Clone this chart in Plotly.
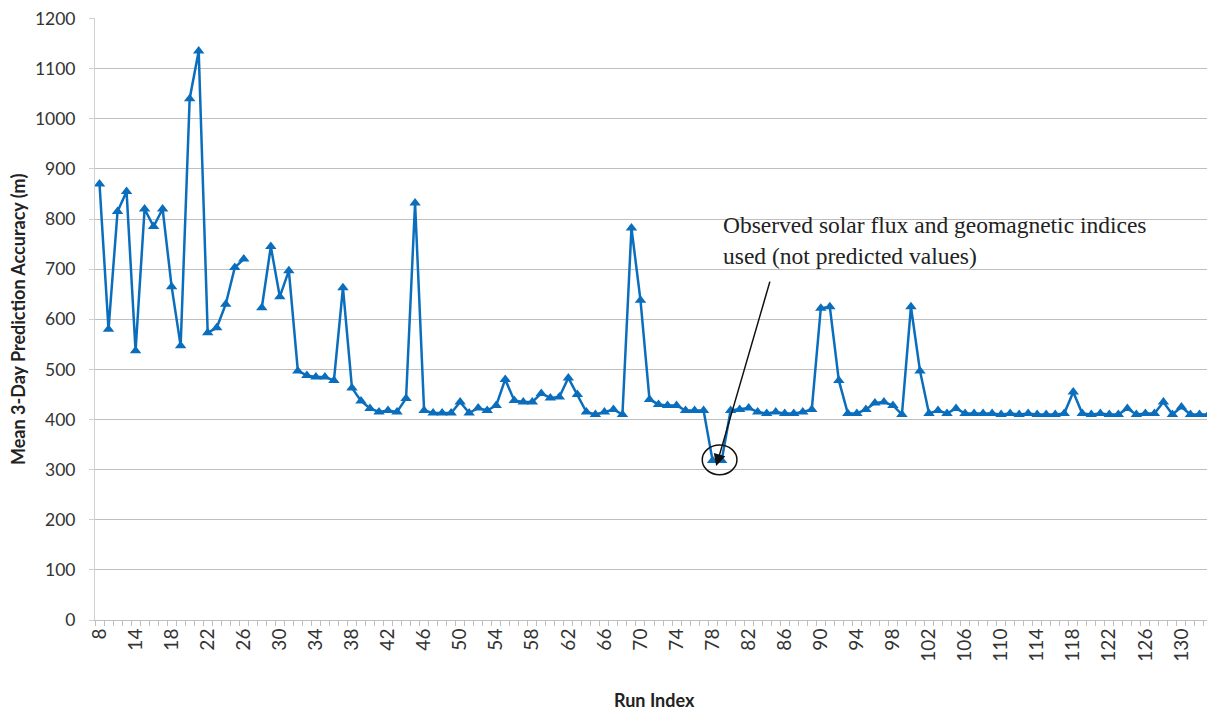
import plotly.graph_objects as go

# Run indices (categories) and mean 3-day prediction accuracy (m)
run_index = [8, 11, 12, 13] + list(range(14, 134))
accuracy = [
    870, 580, 815, 855, 537, 820, 785, 820, 665, 547,
    1040, 1135, 573, 583, 630, 703, 720, None, 623, 745,
    645, 697, 497, 488, 485, 485, 478, 663, 463, 437,
    422, 415, 418, 415, 442, 832, 418, 413, 413, 413,
    435, 413, 423, 418, 428, 480, 438, 435, 435, 452,
    443, 445, 483, 450, 415, 410, 415, 420, 410, 782,
    638, 440, 430, 428, 428, 418, 418, 418, 318, 318,
    418, 420, 423, 415, 412, 415, 412, 412, 415, 420,
    622, 625, 478, 412, 412, 420, 433, 435, 428, 410,
    625, 497, 412, 418, 412, 422, 412, 412, 412, 412,
    410, 412, 410, 412, 410, 410, 410, 412, 455, 412,
    410, 412, 410, 410, 422, 410, 412, 412, 435, 410,
    425, 410, 410, 410,
]
tick_pos = list(range(0, len(run_index), 4))
tick_text = [str(run_index[i]) for i in tick_pos]

x = list(range(len(run_index)))

fig = go.Figure(go.Scatter(
    x=x, y=accuracy, mode="lines+markers",
    line=dict(color="#0A6EBD", width=2.5),
    marker=dict(symbol="triangle-up", size=10, color="#0A6EBD"),
    connectgaps=False, showlegend=False,
    customdata=run_index,
    hovertemplate="Run %{customdata}: %{y}<extra></extra>",
))

font_sans = "Lato, Open Sans, sans-serif"

# page body has an 8px margin, so the figure is sized to fit the window
fig.update_layout(
    width=1207, height=705,
    margin=dict(l=87, r=2, t=10, b=93),
    plot_bgcolor="white", paper_bgcolor="white",
    font=dict(family=font_sans, size=17.5, color="#333"),
    xaxis=dict(
        automargin=False,
        range=[-0.5, len(run_index) - 0.5],
        tickmode="array", tickvals=tick_pos, ticktext=tick_text,
        tickangle=-90, ticks="", showgrid=False,
        tickfont=dict(size=19),
        showline=True, linecolor="#bfbfbf", linewidth=1,
        minor=dict(tickmode="linear", tick0=-0.5, dtick=1, ticks="outside",
                   ticklen=5, tickcolor="#bfbfbf", showgrid=False),
        zeroline=False,
    ),
    yaxis=dict(
        automargin=False,
        range=[0, 1201], tick0=0, dtick=100,
        showgrid=True, gridcolor="#bfbfbf", gridwidth=1,
        showline=True, linecolor="#d0d0d0", linewidth=1,
        ticks="outside", ticklen=5, tickcolor="#d0d0d0",
        ticklabelstandoff=10, ticklabeloverflow="allow",
        zeroline=False,
    ),
)

# Axis titles
fig.add_annotation(
    x=0.5, y=-0.133, xref="paper", yref="paper", yanchor="middle", showarrow=False,
    text="<b>Run Index</b>", font=dict(size=18, color="#222"),
)
fig.add_annotation(
    x=-0.0689, y=0.5, xref="paper", yref="paper", xanchor="center", showarrow=False,
    text="<b>Mean 3-Day Prediction Accuracy (m)</b>", textangle=-90,
    font=dict(size=18, color="#222"),
)

# Annotation about observed solar flux
fig.add_annotation(
    x=68.9, y=818, xref="x", yref="y", xanchor="left", yanchor="top",
    text="Observed solar flux and geomagnetic indices<br>used (not predicted values)",
    showarrow=False, align="left",
    font=dict(family="Liberation Serif, Times New Roman, serif", size=23.5, color="#222"),
)
fig.add_annotation(
    x=68.4, y=307, ax=74.4, ay=678, xref="x", yref="y", axref="x", ayref="y",
    text="", showarrow=True, arrowhead=2, arrowsize=1.6, arrowwidth=1.5, arrowcolor="#111",
)
fig.add_shape(
    type="circle", xref="x", yref="y",
    x0=66.85, x1=70.7, y0=290, y1=349,
    line=dict(color="#111", width=1.5),
)

fig.write_html("out.html")
